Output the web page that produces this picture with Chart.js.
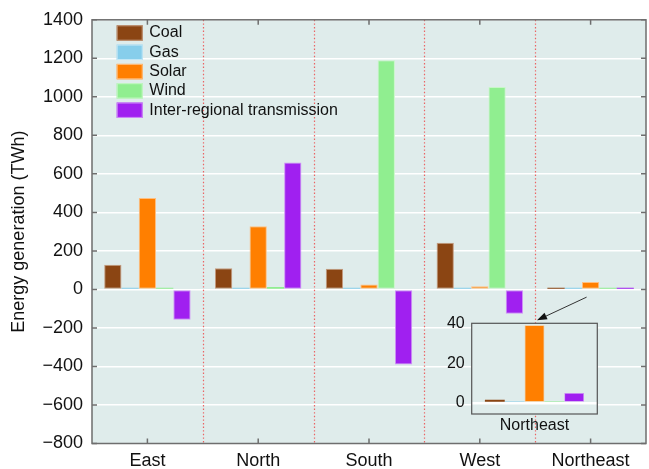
<!DOCTYPE html>
<html>
<head>
<meta charset="utf-8">
<script src="https://cdn.jsdelivr.net/npm/chart.js@4/dist/chart.umd.min.js"></script>
<style>
  html, body { margin: 0; padding: 0; background: #ffffff; }
  #wrap { position: relative; width: 649px; height: 469px; overflow: hidden; }
  #main { position: absolute; left: 0; top: 0; }
  #inset { position: absolute; left: 420px; top: 285px; }
</style>
</head>
<body>
<div id="wrap">
  <canvas id="main" width="649" height="469"></canvas>
  <canvas id="inset" width="190" height="184"></canvas>
</div>
<script>
// Annual energy generation by region and source (TWh)
const categories = ['East', 'North', 'South', 'West', 'Northeast'];
const coal = [128, 110, 107, 242, 1.7];
const gas = [3, 3, 5, 5, 0.9];
const solar = [475, 328, 26, 17, 39];
const wind = [3, 12, 1190, 1051, 0.9];
const transmission = [-157, 659, -390, -126, 5];

const seriesNames = ['Coal', 'Gas', 'Solar', 'Wind', 'Inter-regional transmission'];
const seriesColors = ['#8B4513', '#87CEEB', '#FF7F00', '#90EE90', '#A020F0'];
const seriesEdges = ['#c49a7f', '#c3e7f5', '#ffbf80', '#c8f7c8', '#d090f8'];

const yTicks = [-800, -600, -400, -200, 0, 200, 400, 600, 800, 1000, 1200, 1400];
const insetTicks = [0, 20, 40];
const insetIndex = categories.indexOf('Northeast');

const FONT = '"Liberation Sans", Arial, Helvetica, sans-serif';
const BG = '#dfeceb';
const seriesValues = [coal, gas, solar, wind, transmission];

const minus = v => String(v).replace('-', '\u2212');

// plot background, separators, frame, tick marks and legend for the main axes
const mainDecor = {
  id: 'mainDecor',
  beforeDraw(chart) {
    const a = chart.chartArea, c = chart.ctx;
    c.save();
    c.fillStyle = BG;
    c.fillRect(a.left, a.top, a.right - a.left, a.bottom - a.top);
    c.restore();
  },
  beforeDatasetsDraw(chart) {
    const a = chart.chartArea, c = chart.ctx, xs = chart.scales.x;
    c.save();
    c.strokeStyle = 'rgba(236,84,84,0.9)';
    c.lineWidth = 1.2;
    c.setLineDash([1.4, 2.2]);
    for (let i = 0; i < categories.length - 1; i++) {
      const x = Math.round((xs.getPixelForValue(i) + xs.getPixelForValue(i + 1)) / 2) + 0.5;
      c.beginPath();
      c.moveTo(x, a.top);
      c.lineTo(x, a.bottom);
      c.stroke();
    }
    c.restore();
  },
  afterDraw(chart) {
    const a = chart.chartArea, c = chart.ctx, xs = chart.scales.x, ys = chart.scales.y;
    c.save();
    c.strokeStyle = '#6e6e6e';
    c.lineWidth = 1.5;
    c.strokeRect(a.left, a.top, a.right - a.left, a.bottom - a.top);
    c.beginPath();
    yTicks.forEach(v => {
      const y = ys.getPixelForValue(v);
      c.moveTo(a.left, y); c.lineTo(a.left + 5, y);
      c.moveTo(a.right, y); c.lineTo(a.right - 5, y);
    });
    categories.forEach((_, i) => {
      const x = xs.getPixelForValue(i);
      c.moveTo(x, a.top); c.lineTo(x, a.top + 5);
      c.moveTo(x, a.bottom); c.lineTo(x, a.bottom - 5);
    });
    c.stroke();

    // legend
    c.font = '16px ' + FONT;
    c.textBaseline = 'middle';
    c.textAlign = 'left';
    chart.data.datasets.forEach((ds, i) => {
      const cy = 33 + i * 19.3;
      c.fillStyle = ds.backgroundColor;
      c.fillRect(116.7, cy - 7.7, 26, 15.4);
      c.strokeStyle = ds.borderColor;
      c.lineWidth = 1;
      c.strokeRect(117.2, cy - 7.2, 25, 14.4);
      c.fillStyle = '#111';
      c.fillText(ds.label, 149.3, cy);
    });
    c.restore();
  }
};

// pale outline only on bars tall enough for it to show
const edgeWidth = (limit, w) => ctx => (Math.abs(ctx.raw) > limit ? w : 0);

function makeDatasets(pick, extra) {
  return seriesNames.map((name, i) => Object.assign({
    label: name,
    data: pick(seriesValues[i]),
    backgroundColor: seriesColors[i],
    borderColor: seriesEdges[i],
    borderSkipped: false,
    barPercentage: 1,
  }, extra));
}

const mainChart = new Chart(document.getElementById('main'), {
  type: 'bar',
  data: {
    labels: categories,
    datasets: makeDatasets(v => v.slice(), {
      categoryPercentage: 0.78, minBarLength: 1.6, borderWidth: edgeWidth(15, 1)
    })
  },
  options: {
    responsive: false,
    animation: false,
    devicePixelRatio: 1,
    layout: { padding: { top: 18, right: 3, left: 0, bottom: 0 } },
    plugins: { legend: { display: false }, tooltip: { enabled: false } },
    scales: {
      x: {
        grid: { display: false, drawTicks: false },
        border: { display: false },
        ticks: { font: { size: 18, family: FONT }, color: '#111', padding: 7, maxRotation: 0 },
        afterFit(s) { s.height = 25.5; }
      },
      y: {
        min: -800, max: 1400,
        afterBuildTicks(s) { s.ticks = yTicks.map(v => ({ value: v })); },
        grid: { color: '#ffffff', lineWidth: 1.5, drawTicks: false },
        border: { display: false },
        ticks: { font: { size: 18, family: FONT }, color: '#111', padding: 9, callback: v => minus(v) },
        title: {
          display: true, text: 'Energy generation (TWh)',
          font: { size: 18, family: FONT }, color: '#111',
          padding: { top: 8, bottom: 0 }
        },
        afterFit(s) { s.width = 92; }
      }
    }
  },
  plugins: [mainDecor]
});

// zoomed view of the Northeast group, with a pointer from the main bars
const insetDecor = {
  id: 'insetDecor',
  beforeDraw(chart) {
    const a = chart.chartArea, c = chart.ctx;
    c.save();
    c.fillStyle = BG;
    c.fillRect(a.left, a.top, a.right - a.left, a.bottom - a.top);
    c.restore();
  },
  afterDraw(chart) {
    const a = chart.chartArea, c = chart.ctx;
    const box = chart.canvas.getBoundingClientRect();
    const mbox = mainChart.canvas.getBoundingClientRect();
    const dx = mbox.left - box.left, dy = mbox.top - box.top;
    c.save();
    c.strokeStyle = '#555';
    c.lineWidth = 1.2;
    c.strokeRect(a.left, a.top, a.right - a.left, a.bottom - a.top);

    const solarBar = mainChart.getDatasetMeta(2).data[insetIndex];
    const sx = solarBar.x - 4 + dx;
    const sy = mainChart.scales.y.getPixelForValue(-40) + dy;
    const ex = chart.scales.x.getPixelForValue(0) + 2.5;
    const ey = a.top - 3;
    const ang = Math.atan2(ey - sy, ex - sx);
    const L = 10, W = 3.6;
    const bx = ex - L * Math.cos(ang), by = ey - L * Math.sin(ang);
    c.strokeStyle = '#333';
    c.lineWidth = 1;
    c.beginPath();
    c.moveTo(sx, sy);
    c.lineTo(bx, by);
    c.stroke();
    c.fillStyle = '#111';
    c.beginPath();
    c.moveTo(ex, ey);
    c.lineTo(bx + W * Math.sin(ang), by - W * Math.cos(ang));
    c.lineTo(bx - W * Math.sin(ang), by + W * Math.cos(ang));
    c.closePath();
    c.fill();
    c.restore();
  }
};

new Chart(document.getElementById('inset'), {
  type: 'bar',
  data: {
    labels: [categories[insetIndex]],
    datasets: makeDatasets(v => [v[insetIndex]], {
      categoryPercentage: 0.79, borderWidth: edgeWidth(2.5, 0.8)
    })
  },
  options: {
    responsive: false,
    animation: false,
    devicePixelRatio: 1,
    layout: { padding: { top: 38.3, right: 12.7, left: 0, bottom: 0 } },
    plugins: { legend: { display: false }, tooltip: { enabled: false } },
    scales: {
      x: {
        grid: { display: false, drawTicks: false },
        border: { display: false },
        ticks: { font: { size: 16, family: FONT }, color: '#111', padding: 2, maxRotation: 0 },
        afterFit(s) { s.height = 55; }
      },
      y: {
        min: -5.5, max: 40,
        afterBuildTicks(s) { s.ticks = insetTicks.map(v => ({ value: v })); },
        grid: {
          drawTicks: false, lineWidth: 2.5,
          color: ctx => (ctx.tick && ctx.tick.value === 0) ? '#ffffff' : 'rgba(0,0,0,0)'
        },
        border: { display: false },
        ticks: { font: { size: 16, family: FONT }, color: '#111', padding: 7 },
        afterFit(s) { s.width = 51.7; }
      }
    }
  },
  plugins: [insetDecor]
});
</script>
</body>
</html>
